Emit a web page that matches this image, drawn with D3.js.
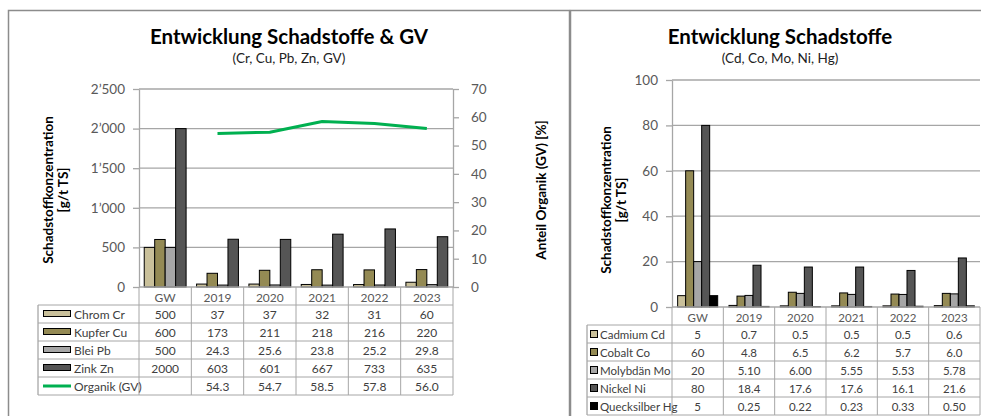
<!DOCTYPE html>
<html>
<head>
<meta charset="utf-8">
<script src="https://cdn.jsdelivr.net/npm/d3@7"></script>
<style>
  html, body { margin: 0; padding: 0; background: #fff; }
  svg { display: block; font-family: Lato, "Open Sans", sans-serif; }
</style>
</head>
<body>
<svg id="chart" width="981" height="416"></svg>
<script>
// ---- data ----
const categories = ["GW", "2019", "2020", "2021", "2022", "2023"];

// Cr, Cu, Pb, Zn [g/t TS] and organic share [%]
const chromCr  = [500, 37, 37, 32, 31, 60];
const kupferCu = [600, 173, 211, 218, 216, 220];
const bleiPb   = [500, 24.3, 25.6, 23.8, 25.2, 29.8];
const zinkZn   = [2000, 603, 601, 667, 733, 635];
const organikGV = [null, 54.3, 54.7, 58.5, 57.8, 56.0];

// Cd, Co, Mo, Ni, Hg [g/t TS]
const cadmiumCd     = [5, 0.7, 0.5, 0.5, 0.5, 0.6];
const cobaltCo      = [60, 4.8, 6.5, 6.2, 5.7, 6.0];
const molybdaenMo   = [20, 5.10, 6.00, 5.55, 5.53, 5.78];
const nickelNi      = [80, 18.4, 17.6, 17.6, 16.1, 21.6];
const quecksilberHg = [5, 0.25, 0.22, 0.23, 0.33, 0.50];

const leftTicks  = [0, 500, 1000, 1500, 2000, 2500];
const pctTicks   = [0, 10, 20, 30, 40, 50, 60, 70];
const smallTicks = [0, 20, 40, 60, 80, 100];

// ---- styling ----
const GRID = "#a6a6a6";
const TICKTXT = "#595959";
const CELLTXT = "#404040";
const swiss = d3.formatLocale({ decimal: ".", thousands: "\u2019", grouping: [3], currency: ["", ""] });
const fmtThousands = swiss.format(",");
const cell = (v, i, dec) => v == null ? "" : (i === 0 ? String(Math.round(v)) : v.toFixed(dec));

const svg = d3.select("#chart");

// panel frames
svg.append("rect").attr("x", 8.5).attr("y", 10.5).attr("width", 561).attr("height", 430)
  .attr("fill", "#fff").attr("stroke", "#8c8c8c").attr("stroke-width", 1.5);
svg.append("rect").attr("x", 570.5).attr("y", 10.5).attr("width", 430).attr("height", 430)
  .attr("fill", "#fff").attr("stroke", "#8c8c8c").attr("stroke-width", 1.5);

function titles(cx, main, sub) {
  svg.append("text").attr("x", cx).attr("y", 44).attr("text-anchor", "middle")
    .attr("font-size", 20.5).attr("font-weight", 700).attr("fill", "#000").text(main);
  svg.append("text").attr("x", cx).attr("y", 63).attr("text-anchor", "middle")
    .attr("font-size", 13.5).attr("fill", "#222").text(sub);
}

function yTitle(x, cy, lines) {
  lines.forEach((t, k) => {
    svg.append("text")
      .attr("transform", `translate(${x + k * 15},${cy}) rotate(-90)`)
      .attr("text-anchor", "middle").attr("dominant-baseline", "central")
      .attr("font-size", 13.5).attr("font-weight", 700).attr("fill", "#000").text(t);
  });
}

function drawChart(cfg) {
  const { x0, x1, yTop, yBot, yMax, ticks, tickFmt, series, keyStart, keyKind, line } = cfg;
  const g = svg.append("g");
  const x = d3.scaleBand().domain(categories).range([x0, x1]).padding(0);
  const y = d3.scaleLinear().domain([0, yMax]).range([yBot, yTop]);
  const inner = d3.scaleBand().domain(series.map(s => s.name))
    .range([x.bandwidth() * cfg.groupPad, x.bandwidth() * (1 - cfg.groupPad)]).padding(0);

  // gridlines
  g.append("g").selectAll("line").data(ticks.filter(t => t > 0)).join("line")
    .attr("x1", x0).attr("x2", x1).attr("y1", d => y(d)).attr("y2", d => y(d))
    .attr("stroke", GRID).attr("stroke-width", 1.3);

  // left axis
  const ax = g.append("g").attr("transform", `translate(${x0},0)`)
    .call(d3.axisLeft(y).tickValues(ticks).tickFormat(tickFmt).tickSize(6).tickSizeOuter(0).tickPadding(8));
  ax.select(".domain").attr("stroke", GRID).attr("stroke-width", 1.3);
  ax.selectAll(".tick line").attr("stroke", GRID).attr("stroke-width", 1.3);
  ax.selectAll(".tick text").attr("fill", TICKTXT).attr("font-size", 13.5).attr("font-family", "Lato, sans-serif");

  // bars
  series.forEach(s => {
    g.append("g").selectAll("rect").data(s.values.map((v, i) => ({ v, c: categories[i] }))).join("rect")
      .attr("x", d => x(d.c) + inner(s.name))
      .attr("width", inner.bandwidth())
      .attr("y", d => y(d.v))
      .attr("height", d => yBot - y(d.v))
      .attr("fill", s.color).attr("stroke", "#000").attr("stroke-width", 1);
  });

  // secondary axis + line
  if (line) {
    const y2 = d3.scaleLinear().domain([0, line.max]).range([yBot, yTop]);
    const ax2 = g.append("g").attr("transform", `translate(${x1},0)`)
      .call(d3.axisRight(y2).tickValues(line.ticks).tickSize(6).tickSizeOuter(0).tickPadding(12));
    ax2.select(".domain").attr("stroke", GRID).attr("stroke-width", 1.3);
    ax2.selectAll(".tick line").attr("stroke", GRID).attr("stroke-width", 1.3);
    ax2.selectAll(".tick text").attr("fill", TICKTXT).attr("font-size", 13.5).attr("font-family", "Lato, sans-serif");
    const pts = line.values.map((v, i) => ({ v, c: categories[i] })).filter(d => d.v != null);
    g.append("path").datum(pts)
      .attr("d", d3.line().x(d => x(d.c) + x.bandwidth() / 2).y(d => y2(d.v)))
      .attr("fill", "none").attr("stroke", line.color).attr("stroke-width", 3).attr("stroke-linejoin", "round");
  }

  // zero axis line
  g.append("line").attr("x1", x0).attr("x2", x1).attr("y1", yBot).attr("y2", yBot)
    .attr("stroke", GRID).attr("stroke-width", 1.3);

  // ---- data table ----
  const rowH = 18;
  const rows = series.slice();
  if (line) rows.push({ name: line.name, values: line.values, color: line.color, dec: 1, isLine: true });
  const tBot = yBot + rowH * (rows.length + 1);
  const t = g.append("g");
  const fs = cfg.tableFont;
  // header labels
  t.selectAll("text.hd").data(categories).join("text")
    .attr("x", d => x(d) + x.bandwidth() / 2).attr("y", yBot + rowH / 2 + 1)
    .attr("text-anchor", "middle").attr("dominant-baseline", "central")
    .attr("font-size", fs).attr("fill", TICKTXT).text(d => d);
  // vertical separators
  const vx = categories.map(c => x(c)).concat([x1]);
  t.selectAll("line.v").data(vx).join("line")
    .attr("x1", d => d).attr("x2", d => d).attr("y1", yBot).attr("y2", tBot)
    .attr("stroke", GRID).attr("stroke-width", 1);
  // legend column frame
  t.append("line").attr("x1", keyStart).attr("x2", keyStart).attr("y1", yBot + rowH).attr("y2", tBot)
    .attr("stroke", "#8c8c8c").attr("stroke-width", 1);
  // horizontal lines
  d3.range(1, rows.length + 2).forEach(k => {
    t.append("line").attr("x1", keyStart).attr("x2", x1)
      .attr("y1", yBot + k * rowH).attr("y2", yBot + k * rowH)
      .attr("stroke", GRID).attr("stroke-width", 1);
  });
  rows.forEach((s, r) => {
    const cy = yBot + rowH * (r + 1) + rowH / 2;
    if (s.isLine) {
      t.append("line").attr("x1", keyStart + 5).attr("x2", keyStart + 33).attr("y1", cy).attr("y2", cy)
        .attr("stroke", s.color).attr("stroke-width", 3);
    } else if (keyKind === "wide") {
      t.append("rect").attr("x", keyStart + 5.5).attr("y", cy - 3.5).attr("width", 27).attr("height", 6)
        .attr("fill", s.color).attr("stroke", "#000").attr("stroke-width", 1);
    } else {
      t.append("rect").attr("x", keyStart + 3.5).attr("y", cy - 3.5).attr("width", 7).attr("height", 7)
        .attr("fill", s.color).attr("stroke", "#000").attr("stroke-width", 1);
    }
    t.append("text").attr("x", keyStart + (keyKind === "wide" ? 36 : 13)).attr("y", cy + 0.5)
      .attr("dominant-baseline", "central").attr("font-size", fs).attr("fill", CELLTXT).text(s.name);
    t.selectAll(null).data(s.values).join("text")
      .attr("x", (d, i) => x(categories[i]) + x.bandwidth() / 2).attr("y", cy + 0.5)
      .attr("text-anchor", "middle").attr("dominant-baseline", "central")
      .attr("font-size", fs).attr("fill", CELLTXT).text((d, i) => cell(d, i, s.dec));
  });
}

// ---- left panel ----
titles(289, "Entwicklung Schadstoffe & GV", "(Cr, Cu, Pb, Zn, GV)");
yTitle(48, 190, ["Schadstoffkonzentration", "[g/t TS]"]);
svg.append("text").attr("transform", "translate(541,190) rotate(-90)")
  .attr("text-anchor", "middle").attr("dominant-baseline", "central")
  .attr("font-size", 13.5).attr("font-weight", 700).attr("fill", "#000").text("Anteil Organik (GV) [%]");

drawChart({
  x0: 139, x1: 453, yTop: 89, yBot: 287, yMax: 2500,
  ticks: leftTicks, tickFmt: fmtThousands, groupPad: 0.1,
  keyStart: 38, keyKind: "wide", tableFont: 12,
  series: [
    { name: "Chrom Cr",  values: chromCr,  color: "#c9c09a", dec: 0 },
    { name: "Kupfer Cu", values: kupferCu, color: "#948a54", dec: 0 },
    { name: "Blei Pb",   values: bleiPb,   color: "#a6a6a6", dec: 1 },
    { name: "Zink Zn",   values: zinkZn,   color: "#555555", dec: 0 }
  ],
  line: { name: "Organik (GV)", values: organikGV, color: "#00b050", max: 70, ticks: pctTicks }
});

// ---- right panel ----
titles(780, "Entwicklung Schadstoffe", "(Cd, Co, Mo, Ni, Hg)");
yTitle(606, 200, ["Schadstoffkonzentration", "[g/t TS]"]);

drawChart({
  x0: 672, x1: 980, yTop: 80, yBot: 307, yMax: 100,
  ticks: smallTicks, tickFmt: d3.format("d"), groupPad: 0.11,
  keyStart: 587, keyKind: "square", tableFont: 11.5,
  series: [
    { name: "Cadmium Cd",     values: cadmiumCd,     color: "#c9c09a", dec: 1 },
    { name: "Cobalt Co",      values: cobaltCo,      color: "#948a54", dec: 1 },
    { name: "Molybdän Mo",    values: molybdaenMo,   color: "#a6a6a6", dec: 2 },
    { name: "Nickel Ni",      values: nickelNi,      color: "#555555", dec: 1 },
    { name: "Quecksilber Hg", values: quecksilberHg, color: "#000000", dec: 2 }
  ]
});
</script>
</body>
</html>
